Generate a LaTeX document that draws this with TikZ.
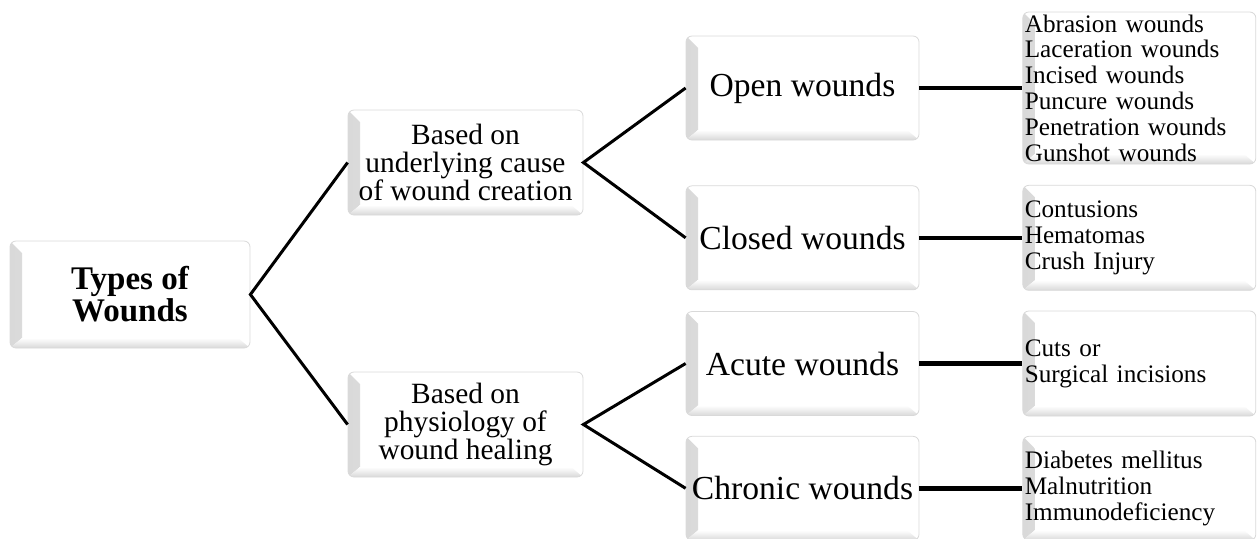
\documentclass[tikz,border=0pt]{standalone}
\usepackage{fontspec}
\setmainfont{Liberation Serif}
\usetikzlibrary{positioning}

\begin{document}
\begin{tikzpicture}[
	x=0.5pt, y=-0.5pt,
	every node/.style={black, align=center, inner sep=1pt},
	box/.style={draw=gray!30, rounded corners=3pt, fill=white,
		path picture={
			\shade[sharp corners, left color=gray!30, right color=white]
				(path picture bounding box.south west) -- (path picture bounding box.north west)
				-- ([shift={(6pt,-6pt)}]path picture bounding box.north west)
				-- ([shift={(6pt,5pt)}]path picture bounding box.south west) -- cycle;
			\shade[sharp corners, bottom color=gray!30, top color=white]
				(path picture bounding box.south west) -- ([shift={(6pt,5pt)}]path picture bounding box.south west)
				-- ([shift={(-6pt,5pt)}]path picture bounding box.south east)
				-- (path picture bounding box.south east) -- cycle;
		}},
	root/.style={box, minimum width=120pt, minimum height=53.5pt,
		font=\bfseries\fontsize{16.5}{16}\selectfont},
	basis/.style={box, minimum width=117.5pt, minimum height=52.5pt,
		font=\fontsize{14.7}{13.8}\selectfont},
	kind/.style={box, minimum width=116.5pt, minimum height=52pt,
		font=\fontsize{16.8}{17}\selectfont},
	list/.style={box, text width=114.5pt, align=left,
		font=\fontsize{12.6}{12.9}\selectfont},
	branch/.style={line width=1.5pt},
	link/.style={line width=2.3pt}
]
	\useasboundingbox (0,0) rectangle (1257,538);
	\node (types) [root] at (130,294.5) {Types of\\Wounds};
	\node (cause) [basis] at (465.5,162.5) {Based on\\underlying cause\\of wound creation};
	\node (physio) [basis] at (465.5,424.5) {Based on\\physiology of\\wound healing};
	\node (open) [kind] at (802.5,88) {Open wounds};
	\node (closed) [kind, below=22.5pt of open] {Closed wounds};
	\node (acute) [kind] at (802.5,363.5) {Acute wounds};
	\node (chronic) [kind, below=10pt of acute] {Chronic wounds};
	\node (openlist) [list, minimum height=76pt, right=51.5pt of open] {Abrasion wounds\\Laceration wounds\\Incised wounds\\Puncure wounds\\Penetration wounds\\Gunshot wounds};
	\node (closedlist) [list, minimum height=52.5pt, right=51.5pt of closed] {Contusions\\Hematomas\\Crush Injury};
	\node (acutelist) [list, minimum height=52.5pt, right=51.5pt of acute] {Cuts or\\Surgical incisions};
	\node (chroniclist) [list, minimum height=52pt, right=51.5pt of chronic] {Diabetes mellitus\\Malnutrition\\Immunodeficiency};
	\draw[branch] (cause.west) -- (types.east) -- (physio.west);
	\draw[branch] (open.west) -- (cause.east) -- (closed.west);
	\draw[branch] (acute.west) -- (physio.east) -- (chronic.west);
	\draw[link] (open) -- (openlist);
	\draw[link] (closed) -- (closedlist);
	\draw[link] (acute) -- (acutelist);
	\draw[link] (chronic) -- (chroniclist);
\end{tikzpicture}
\end{document}
